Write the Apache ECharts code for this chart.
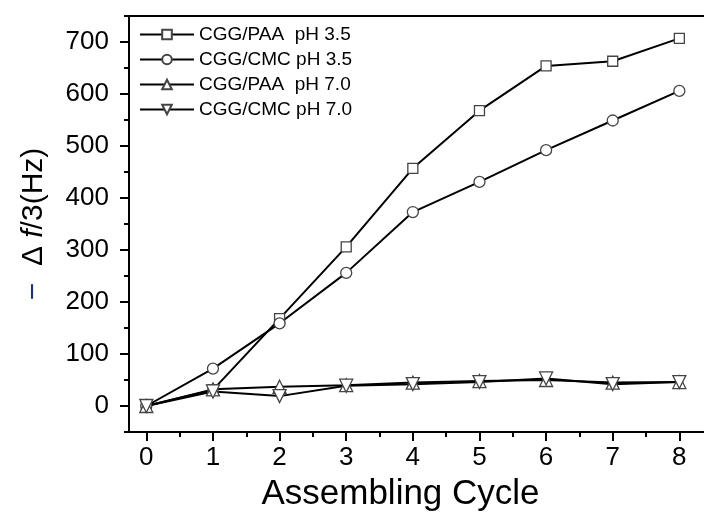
<!DOCTYPE html>
<html>
<head>
<meta charset="utf-8">
<script src="https://cdn.jsdelivr.net/npm/echarts@6/dist/echarts.min.js"></script>
<style>
html,body{margin:0;padding:0;background:#fff;}
#c{width:704px;height:512px;}
</style>
</head>
<body>
<div id="c"></div>
<script>
const cycles = [0, 1, 2, 3, 4, 5, 6, 7, 8];
const paa35 = [0, 31, 168, 306, 457, 568, 654, 663, 707];
const cmc35 = [0, 72, 159, 256, 373, 431, 492, 549, 606];
const paa70 = [0, 32, 37, 40, 45, 48, 50, 45, 46];
const cmc70 = [0, 28, 19, 39, 42, 46, 53, 42, 46];
const seriesNames = ['CGG/PAA  pH 3.5', 'CGG/CMC pH 3.5', 'CGG/PAA  pH 7.0', 'CGG/CMC pH 7.0'];
const yMajor = [0, 100, 200, 300, 400, 500, 600, 700];
const yMinor = [-50, 50, 150, 250, 350, 450, 550, 650, 750];
const xMajor = [0, 1, 2, 3, 4, 5, 6, 7, 8];
const xMinor = [0.5, 1.5, 2.5, 3.5, 4.5, 5.5, 6.5, 7.5];

const font = '"Liberation Sans", Arial, sans-serif';
const pair = ys => cycles.map((c, i) => [c, ys[i]]);

function mk(name, ys, symbol, size, rot) {
  return {
    name: name, type: 'line', data: pair(ys),
    xAxisIndex: 0, yAxisIndex: 0,
    symbol: symbol, symbolSize: size, symbolRotate: rot || 0,
    showAllSymbol: true,
    lineStyle: { color: '#000', width: 2 },
    itemStyle: { color: '#fff', borderColor: '#444', borderWidth: 1.3 },
    emphasis: { disabled: true },
    animation: false
  };
}

const chart = echarts.init(document.getElementById('c'), null, { renderer: 'canvas' });
chart.setOption({
  backgroundColor: '#fff',
  animation: false,
  grid: { left: 129, top: 16, right: 0, bottom: 80, outerBoundsMode: 'none', containLabel: false },
  legend: {
    data: seriesNames,
    orient: 'vertical', left: 134, top: 19,
    itemWidth: 54, itemHeight: 12, itemGap: 4,
    textStyle: { fontFamily: font, fontSize: 19, color: '#000', lineHeight: 21 },
    inactiveColor: '#000'
  },
  xAxis: [{
    type: 'value', min: -0.26, max: 8.37, position: 'bottom',
    axisLine: { show: true, onZero: false, lineStyle: { color: '#000', width: 2 } },
    axisTick: { show: true, inside: false, length: 9, lineStyle: { color: '#000', width: 2 }, customValues: xMajor },
    axisLabel: { show: true, margin: 13, fontFamily: font, fontSize: 26, color: '#000', customValues: xMajor },
    splitLine: { show: false },
    name: 'Assembling Cycle', nameLocation: 'middle', nameGap: 45,
    nameTextStyle: { fontFamily: font, fontSize: 35, color: '#000', padding: [0, 32, 0, 0] }
  }, {
    type: 'value', min: -0.26, max: 8.37, position: 'bottom',
    axisLine: { show: false, onZero: false },
    axisTick: { show: true, inside: false, length: 5, lineStyle: { color: '#000', width: 2 }, customValues: xMinor },
    axisLabel: { show: false }, splitLine: { show: false }
  }, {
    type: 'value', min: -0.26, max: 8.37, position: 'top',
    axisLine: { show: true, onZero: false, lineStyle: { color: '#000', width: 2 } },
    axisTick: { show: false }, axisLabel: { show: false }, splitLine: { show: false }
  }],
  yAxis: [{
    type: 'value', min: -50, max: 750, position: 'left',
    axisLine: { show: true, onZero: false, lineStyle: { color: '#000', width: 2 } },
    axisTick: { show: true, inside: false, length: 9, lineStyle: { color: '#000', width: 2 }, customValues: yMajor },
    axisLabel: { show: true, margin: 20, fontFamily: font, fontSize: 26, color: '#000', customValues: yMajor },
    splitLine: { show: false },
    name: '{m|−}  Δ {i|f}/3(Hz)', nameLocation: 'middle', nameGap: 80,
    nameTextStyle: {
      fontFamily: font, fontSize: 30, color: '#000',
      rich: {
        m: { fontFamily: font, fontSize: 30, color: '#1f2f70' },
        i: { fontFamily: font, fontSize: 30, fontStyle: 'italic', color: '#000' }
      }
    }
  }, {
    type: 'value', min: -50, max: 750, position: 'left',
    axisLine: { show: false, onZero: false },
    axisTick: { show: true, inside: false, length: 5, lineStyle: { color: '#000', width: 2 }, customValues: yMinor },
    axisLabel: { show: false }, splitLine: { show: false }
  }],
  series: [
    mk(seriesNames[0], paa35, 'rect', 10),
    mk(seriesNames[1], cmc35, 'circle', 11),
    mk(seriesNames[2], paa70, 'triangle', 13),
    mk(seriesNames[3], cmc70, 'triangle', 13, 180)
  ]
});
</script>
</body>
</html>
